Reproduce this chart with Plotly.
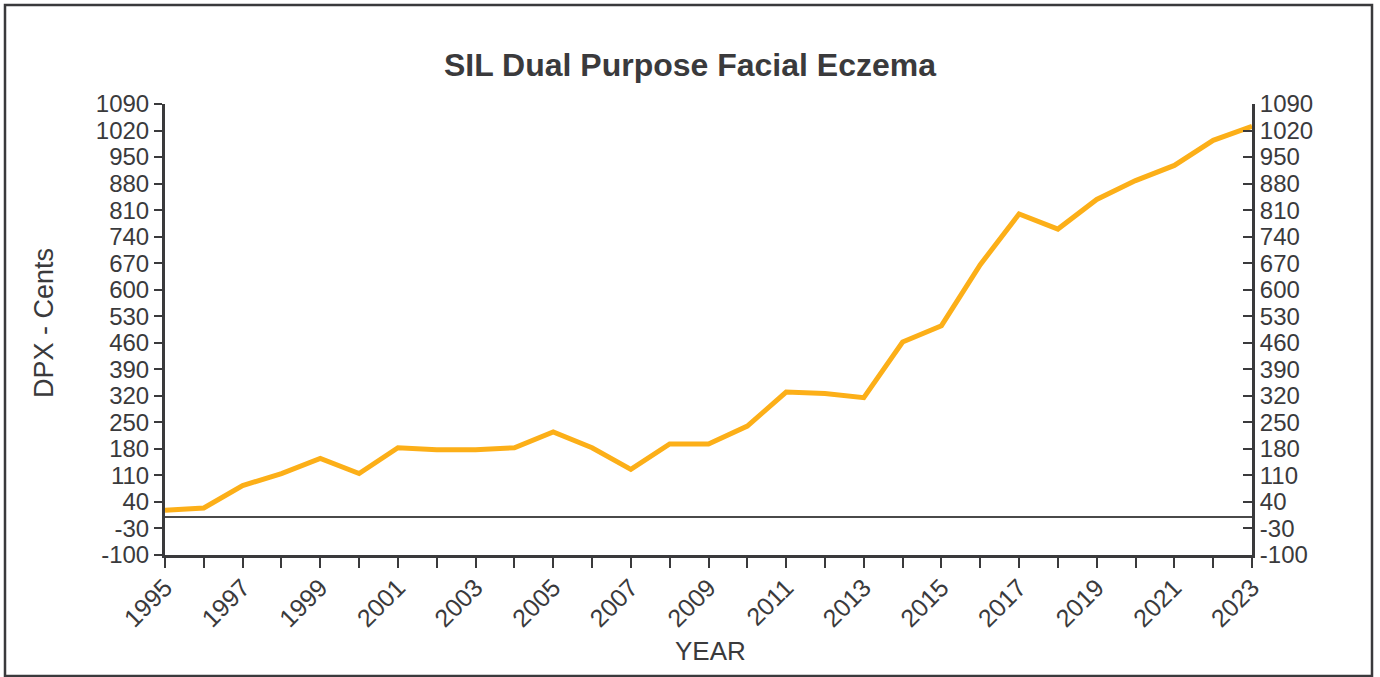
import plotly.graph_objects as go

years = list(range(1995, 2024))
dpx_cents = [18, 24, 83, 115, 155, 115, 183, 178, 178, 183, 225, 183, 126, 193, 193, 240,
             330, 326, 315, 462, 505, 666, 800, 760, 838, 888, 928, 994, 1031]
y_ticks = list(range(-100, 1091, 70))
x_ticktext = [str(y) if (y - 1995) % 2 == 0 else "" for y in years]

title_text = "SIL Dual Purpose Facial Eczema"
y_title = "DPX - Cents"
x_title = "YEAR"

W, H = 1380, 677
L, R, T, B = 165, 128, 104, 122
pw, ph = W - L - R, H - T - B

FONT = "Liberation Sans, Arial, Helvetica, sans-serif"
TXT = "#3a3a3c"
AX = "#3a3a3c"
LINE = "#FCAF18"

fig = go.Figure()
fig.add_trace(go.Scatter(x=years, y=dpx_cents, mode="lines",
                         line=dict(color=LINE, width=5), showlegend=False, yaxis="y"))
fig.add_trace(go.Scatter(x=years, y=dpx_cents, mode="lines",
                         line=dict(color="rgba(0,0,0,0)", width=0), showlegend=False,
                         hoverinfo="skip", yaxis="y2"))

axis_common = dict(range=[-100, 1090], tickvals=y_ticks, ticktext=[str(v) for v in y_ticks],
                   showgrid=False, showline=True, linecolor=AX, linewidth=3,
                   tickcolor=AX, tickwidth=2, tickfont=dict(family=FONT, size=24, color=TXT),
                   fixedrange=True)

fig.update_layout(
    width=W, height=H,
    margin=dict(l=L, r=R, t=T, b=B),
    paper_bgcolor="white", plot_bgcolor="white",
    font=dict(family=FONT, color=TXT),
    title=dict(text="<b>" + title_text + "</b>", x=0.5, xref="container", xanchor="center",
               y=1 - 65 / H, yref="container", yanchor="middle",
               font=dict(family=FONT, size=32, color=TXT)),
    xaxis=dict(range=[1995, 2023], tickvals=years, ticktext=x_ticktext, tickangle=-45,
               showgrid=False, showline=True, linecolor=AX, linewidth=3, zeroline=False,
               ticks="outside", ticklen=10, tickcolor=AX, tickwidth=2, ticklabelstandoff=-5,
               tickfont=dict(family=FONT, size=25, color=TXT), fixedrange=True),
    yaxis=dict(**axis_common, side="left", ticks="outside", ticklen=8,
               zeroline=True, zerolinecolor="#4a4a4a", zerolinewidth=2),
    yaxis2=dict(**axis_common, side="right", overlaying="y", ticks="inside", ticklen=9,
                zeroline=False),
    annotations=[
        dict(text=y_title, xref="paper", yref="paper", x=(44 - L) / pw, y=(H - B - 323) / ph,
             xanchor="center", yanchor="middle", textangle=-90, showarrow=False,
             font=dict(family=FONT, size=27, color=TXT)),
        dict(text=x_title, xref="paper", yref="paper", x=(710 - L) / pw, y=(H - B - 651) / ph,
             xanchor="center", yanchor="middle", showarrow=False,
             font=dict(family=FONT, size=26, color=TXT)),
    ],
    shapes=[dict(type="rect", xref="paper", yref="paper",
                 x0=(5 - L) / pw, x1=(1372 - L) / pw,
                 y0=(H - B - 676) / ph, y1=(H - B - 5) / ph,
                 line=dict(color="#3a3a3c", width=2.5), fillcolor="rgba(0,0,0,0)", layer="below")],
)

fig.write_html("out.html", config={"displayModeBar": False},
               post_script="document.body.style.margin='0';document.body.style.overflow='hidden';")
